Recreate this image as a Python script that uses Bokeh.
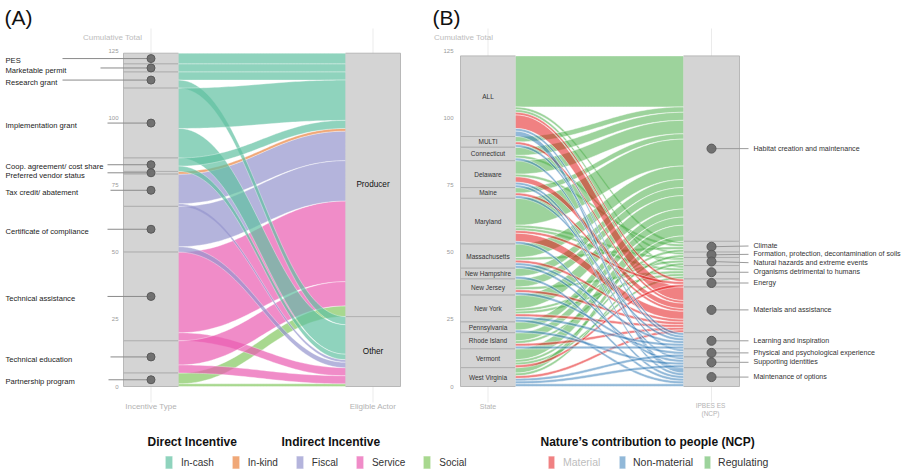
import numpy as np
from bokeh.plotting import figure
from bokeh.models import Range1d, Legend, LegendItem
from bokeh.core.properties import value
from bokeh.embed import file_html
from bokeh.resources import INLINE

FONT = "Liberation Sans"

# ---------------- Panel A data ----------------
incentive_types = ["PES", "Marketable permit", "Research grant", "Implementation grant",
                   "Coop. agreement/ cost share", "Preferred vendor status",
                   "Tax credit/ abatement", "Certificate of compliance",
                   "Technical assistance", "Technical education", "Partnership program"]
incentive_class = ["In-cash", "In-cash", "In-cash", "In-cash", "In-cash", "In-kind",
                   "Fiscal", "Fiscal", "Service", "Service", "Social"]
to_producer = [4, 3, 3, 15, 3, 1, 11, 15, 30, 9, 4]
to_other = [0, 0, 3, 11, 2, 0, 1, 2, 3, 3, 1]
actor_names = ["Producer", "Other"]
incentive_classes = ["In-cash", "In-kind", "Fiscal", "Service", "Social"]
incentive_colors = ["#5fc0a1", "#e9833e", "#9494cd", "#e95bb0", "#83c760"]

# ---------------- Panel B data ----------------
states = ["ALL", "MULTI", "Connecticut", "Delaware", "Maine", "Maryland", "Massachusetts",
          "New Hampshire", "New Jersey", "New York", "Pennsylvania", "Rhode Island",
          "Vermont", "West Virginia"]
ncp_names = ["Habitat creation and maintenance", "Climate",
             "Formation, protection, decontamination of soils",
             "Natural hazards and extreme events", "Organisms detrimental to humans",
             "Energy", "Materials and assistance", "Learning and inspiration",
             "Physical and psychological experience", "Supporting identities",
             "Maintenance of options"]
ncp_class = ["Regulating"] * 5 + ["Material"] * 2 + ["Non-material"] * 4
# rows: states, columns: ncp_names
counts_all = [19, 1, 0, 0, 1, 1, 5, 1, 0, 0, 2]
counts_multi = [2, 0, 0, 0, 0, 0, 1, 1, 0, 0, 0]
counts_ct = [3, 0, 1, 0, 0, 0, 0, 0, 1, 0, 0]
counts_de = [5, 1, 0, 0, 0, 0, 2, 0, 0, 1, 1]
counts_me = [2, 0, 0, 0, 0, 0, 1, 1, 0, 0, 0]
counts_md = [10, 0, 0, 1, 1, 1, 3, 0, 0, 0, 1]
counts_ma = [5, 1, 0, 0, 0, 0, 1, 1, 0, 1, 0]
counts_nh = [3, 0, 0, 0, 0, 0, 0, 0, 0, 0, 1]
counts_nj = [3, 0, 0, 0, 1, 0, 1, 0, 1, 0, 0]
counts_ny = [5, 0, 0, 1, 1, 0, 1, 1, 0, 0, 1]
counts_pa = [3, 0, 0, 0, 0, 0, 0, 0, 0, 1, 0]
counts_ri = [3, 1, 0, 0, 0, 0, 1, 1, 0, 0, 0]
counts_vt = [4, 0, 1, 0, 1, 1, 0, 0, 0, 0, 0]
counts_wv = [2, 0, 0, 1, 0, 0, 1, 0, 1, 1, 1]
ncp_classes = ["Material", "Non-material", "Regulating"]
ncp_colors = ["#e41a1c", "#377eb8", "#4daf4a"]

y_ticks = [0, 25, 50, 75, 100, 125]

# ---------------- layout helpers ----------------
W, H = 906, 476
Y0 = 386.0   # canvas pixel row of value 0
PX = 2.688   # pixels per unit


def wy(py):
    return (Y0 - py) / PX


def flows(matrix):
    M = np.array(matrix, dtype=float)
    total = M.sum()
    row_tot = M.sum(1)
    col_tot = M.sum(0)
    row_top = total - np.concatenate([[0], np.cumsum(row_tot)[:-1]])
    col_top = total - np.concatenate([[0], np.cumsum(col_tot)[:-1]])
    lcur = row_top.copy()
    rcur = col_top.copy()
    out = []
    for i in range(M.shape[0]):
        for j in range(M.shape[1]):
            v = M[i, j]
            if v <= 0:
                continue
            out.append((i, j, lcur[i], lcur[i] - v, rcur[j], rcur[j] - v))
            lcur[i] -= v
            rcur[j] -= v
    return out, row_top, row_tot, col_top, col_tot


def curve(x0, x1, y0, y1, n=48, k=0.42):
    t = np.linspace(0, 1, n)
    w = x1 - x0
    xa, xb = x0 + k * w, x1 - k * w
    x = (1 - t) ** 3 * x0 + 3 * (1 - t) ** 2 * t * xa + 3 * (1 - t) * t ** 2 * xb + t ** 3 * x1
    y = y0 + (y1 - y0) * (3 * t ** 2 - 2 * t ** 3)
    return x, y


def poly(x0, x1, lt, lb, rt, rb):
    xt, yt = curve(x0, x1, lt, rt)
    xb, yb = curve(x0, x1, lb, rb)
    return list(np.concatenate([xt, xb[::-1]])), list(np.concatenate([yt, yb[::-1]]))


def repel(ys, gap, iters=300):
    ys = list(ys)
    for _ in range(iters):
        for k in range(len(ys) - 1):
            d = ys[k] - ys[k + 1]
            if d < gap:
                s = (gap - d) / 2
                ys[k] += s
                ys[k + 1] -= s
    return ys


p = figure(width=W, height=H, x_range=Range1d(0, W), y_range=Range1d(wy(H), wy(0)),
           x_axis_location=None, y_axis_location=None, output_backend="svg",
           toolbar_location=None, min_border=0)
p.outline_line_color = None
p.background_fill_color = "white"
p.border_fill_color = "white"
p.xgrid.grid_line_color = None
p.ygrid.grid_line_color = None


def txt(x, y, t, size, color="#222222", align="left", style="normal"):
    p.text(x=x, y=y, text=t, text_font=value(FONT), text_font_size=size,
           text_color=color, text_align=align, text_baseline="middle",
           text_font_style=style)


# faint x gridlines at strata positions
grid_x = [150.5, 372.5, 487.5, 711]
p.segment(x0=grid_x, x1=grid_x, y0=[wy(28)] * 4, y1=[wy(402)] * 4,
          line_color="#ebebeb", line_width=1)

# ================= Panel A =================
A_L = (123, 178)
A_R = (345, 400)
matA = [list(r) for r in zip(to_producer, to_other)]
fa, a_rtop, a_rtot, a_ctop, a_ctot = flows(matA)

p.quad(left=A_L[0], right=A_L[1], top=a_rtop, bottom=a_rtop - a_rtot,
       fill_color="#d4d4d4", line_color="#ababab", line_width=0.8)
p.quad(left=A_R[0], right=A_R[1], top=a_ctop, bottom=a_ctop - a_ctot,
       fill_color="#d4d4d4", line_color="#ababab", line_width=0.8)

rA = {}
for cls in ["Social", "Service", "Fiscal", "In-kind", "In-cash"]:
    xs, ys = [], []
    for (i, j, lt, lb, rt, rb) in fa:
        if incentive_class[i] == cls:
            px_, py_ = poly(A_L[1], A_R[0], lt, lb, rt, rb)
            xs.append(px_)
            ys.append(py_)
    col = incentive_colors[incentive_classes.index(cls)]
    rA[cls] = p.patches(xs=xs, ys=ys, fill_color=col, fill_alpha=0.7,
                        line_color="white", line_width=0.5, line_alpha=0.7)

a_centers = list(a_rtop - a_rtot / 2)
a_label_y = repel(a_centers, 3.2)
seg_start = [62, 100, 62, 107, 107, 107, 110, 107, 107, 110, 108]
p.segment(x0=seg_start, x1=[150.5] * len(a_centers), y0=a_centers, y1=a_centers,
          line_color="#8a8a8a", line_width=1)
p.scatter(x=[150.5] * len(a_centers), y=a_centers, size=8, fill_color="#6b6b6b",
          line_color="#5a5a5a", fill_alpha=0.95)
txt([5] * len(incentive_types), [y - 0.8 for y in a_label_y], incentive_types, "7.6px")
txt([372.5, 372.5], list(a_ctop - a_ctot / 2), actor_names, "8.2px", "#111111", "center")

txt([118] * len(y_ticks), y_ticks, [str(v) for v in y_ticks], "6px", "#9a9a9a", "right")
txt([112], [wy(37)], ["Cumulative Total"], "8px", "#bdbdbd", "center")
txt([150.5, 372.5], [wy(406)] * 2, ["Incentive Type", "Eligible Actor"], "8px", "#b3b3b3", "center")
txt([4], [wy(17)], ["(A)"], "21px", "#111111")

# ================= Panel B =================
B_L = (460, 515)
B_R = (683, 739)
matB = [counts_all, counts_multi, counts_ct, counts_de, counts_me, counts_md, counts_ma,
        counts_nh, counts_nj, counts_ny, counts_pa, counts_ri, counts_vt, counts_wv]
fb, b_rtop, b_rtot, b_ctop, b_ctot = flows(matB)

p.quad(left=B_L[0], right=B_L[1], top=b_rtop, bottom=b_rtop - b_rtot,
       fill_color="#d4d4d4", line_color="#ababab", line_width=0.8)
p.quad(left=B_R[0], right=B_R[1], top=b_ctop, bottom=b_ctop - b_ctot,
       fill_color="#d4d4d4", line_color="#ababab", line_width=0.8)

rB = {}
for cls in ["Regulating", "Material", "Non-material"]:
    xs, ys = [], []
    for (i, j, lt, lb, rt, rb) in fb:
        if ncp_class[j] == cls:
            px_, py_ = poly(B_L[1], B_R[0], lt, lb, rt, rb)
            xs.append(px_)
            ys.append(py_)
    col = ncp_colors[ncp_classes.index(cls)]
    rB[cls] = p.patches(xs=xs, ys=ys, fill_color=col, fill_alpha=0.55,
                        line_color="white", line_width=0.6, line_alpha=0.8)

txt([487.5] * len(states), list(b_rtop - b_rtot / 2), states, "6.5px", "#333333", "center")

b_centers = list(b_ctop - b_ctot / 2)
b_label_y = repel(b_centers, 3.1)
p.segment(x0=[711] * len(b_centers), x1=[748] * len(b_centers), y0=b_centers, y1=b_label_y,
          line_color="#9a9a9a", line_width=1)
p.scatter(x=[711] * len(b_centers), y=b_centers, size=9, fill_color="#6b6b6b",
          line_color="#5a5a5a", fill_alpha=0.95)
txt([753] * len(ncp_names), b_label_y, ncp_names, "7.1px", "#333333")

txt([453] * len(y_ticks), y_ticks, [str(v) for v in y_ticks], "6px", "#9a9a9a", "right")
txt([463], [wy(37)], ["Cumulative Total"], "8px", "#bdbdbd", "center")
txt([487.5], [wy(406)], ["State"], "7px", "#b3b3b3", "center")
txt([710, 710], [wy(405), wy(413)], ["IPBES ES", "(NCP)"], "6.5px", "#b3b3b3", "center")
txt([432], [wy(17)], ["(B)"], "21px", "#111111")

# ================= Legends =================
txt([147], [wy(441)], ["Direct  Incentive"], "12px", "#111111", "left", "bold")
txt([281], [wy(441)], ["Indirect Incentive"], "12px", "#111111", "left", "bold")
txt([540], [wy(441)], ["Nature\u2019s contribution to people (NCP)"], "12px", "#111111", "left", "bold")

common = dict(orientation="horizontal", padding=0, margin=0, border_line_color=None,
              background_fill_alpha=0, label_text_font=FONT, label_height=16)

legA = Legend(items=[LegendItem(label=value(c), renderers=[rA[c]]) for c in incentive_classes],
              location=(164, 6), glyph_width=9, glyph_height=16, label_standoff=8, spacing=17,
              label_text_font_size="10px", label_text_color="#333333", **common)
legB1 = Legend(items=[LegendItem(label=value("Material"), renderers=[rB["Material"]])],
               location=(547, 6), glyph_width=8, glyph_height=16, label_standoff=8, spacing=10,
               label_text_font_size="10.5px", label_text_color="#bdbdbd", **common)
legB2 = Legend(items=[LegendItem(label=value(c), renderers=[rB[c]]) for c in ["Non-material", "Regulating"]],
               location=(618, 6), glyph_width=8, glyph_height=16, label_standoff=7, spacing=10,
               label_text_font_size="10.5px", label_text_color="#333333", **common)
for lg in (legA, legB1, legB2):
    p.add_layout(lg)

open("out.html", "w").write(file_html(p, INLINE))
